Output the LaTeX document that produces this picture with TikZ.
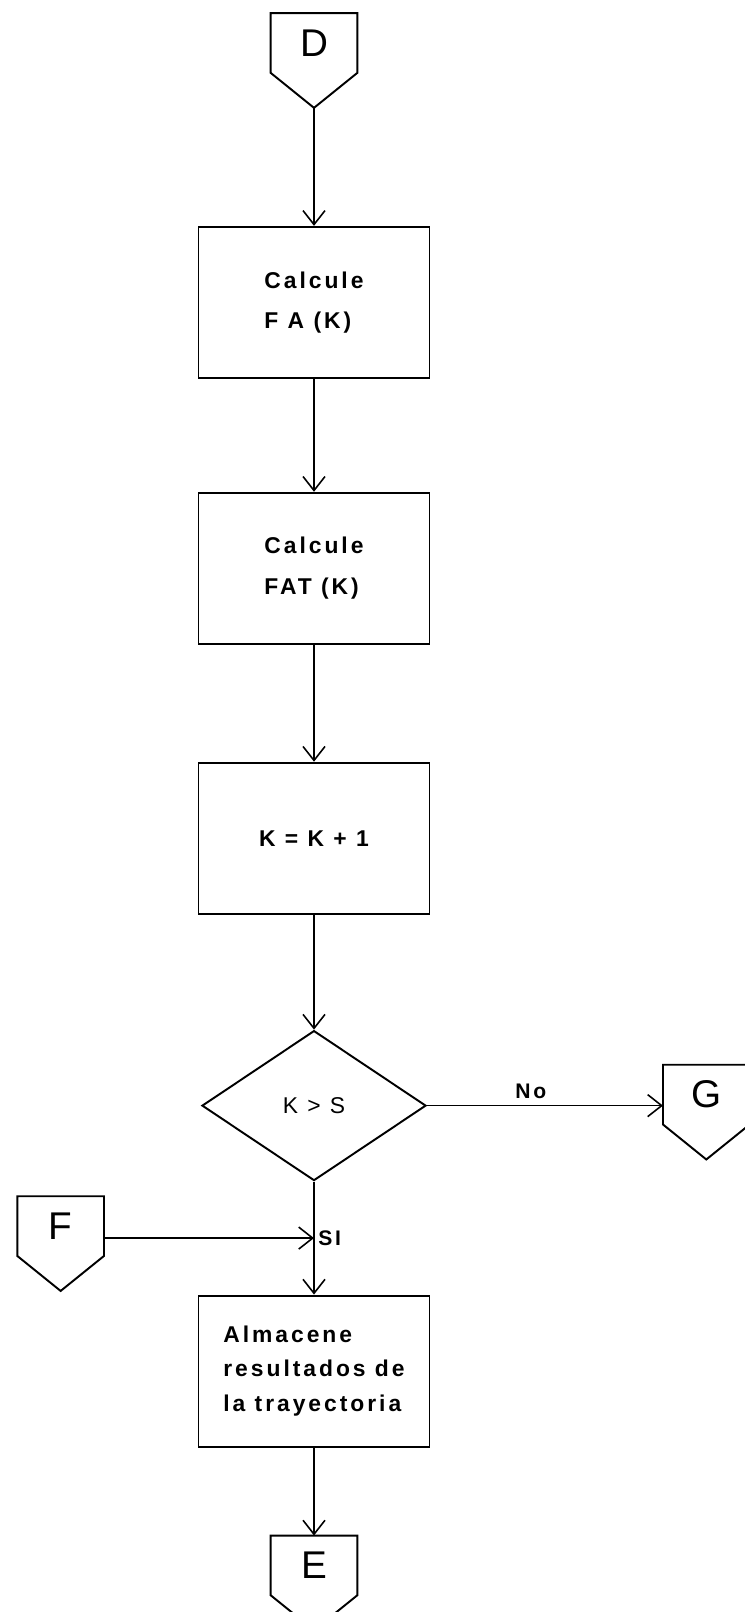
\documentclass[tikz,border=0pt]{standalone}
\usepackage{fontspec}
\setmainfont{Liberation Sans}
\newfontfamily\lettering[LetterSpace=13]{Liberation Sans}
\usetikzlibrary{positioning, arrows.meta, shapes.geometric, calc}

\begin{document}
\begin{tikzpicture}[
    proc/.style={draw, line width=1.1pt, minimum width=4.62cm, minimum height=3.02cm,
                 align=left, font=\lettering\bfseries\fontsize{13}{23}\selectfont},
    decision/.style={draw, diamond, line width=1.1pt, minimum width=4.48cm, minimum height=3cm,
                 inner sep=0pt, font=\lettering\fontsize{13}{15}\selectfont},
    conn/.style={minimum width=1.72cm, minimum height=1.18cm, inner sep=0pt,
                 font=\fontsize{22}{24}\selectfont},
    lab/.style={font=\lettering\bfseries\fontsize{12}{14}\selectfont},
    arrow/.style={-{Straight Barb[length=0.28cm, width=0.44cm]}, line width=0.9pt},
]
\useasboundingbox (0,0) rectangle (14.88,-32.24);

% --- Main column ---
\node[conn]                      (D)     at (6.28,-0.86) {D};
\node[proc, below=3.06cm of D]   (fa)    {Calcule\\F A (K)};
\node[proc, below=2.26cm of fa]  (fat)   {Calcule\\FAT (K)};
\node[proc, below=2.34cm of fat] (inc)   {K = K + 1};
\node[decision, below=2.3cm of inc] (cond) {K > S};
\node[proc, below=2.26cm of cond, font=\lettering\bfseries\fontsize{13}{19.5}\selectfont]
                                 (store) {Almacene\\resultados de\\la trayectoria};
\node[conn, below=1.76cm of store] (E)   {E};

% --- Side connectors ---
\node[conn, right=4.72cm of cond, yshift=0.22cm] (G) {G};
\coordinate (join) at ($(cond.south)!0.5!(store.north)$);
\node[conn, left=4.2cm of join, yshift=0.24cm]   (F) {F};

% --- Off-page connector outlines ---
\foreach \n in {D,E,F,G}
  \draw[line width=1.1pt] (\n.north west) -- (\n.north east) -- (\n.south east)
        -- ([yshift=-0.7cm]\n.south) coordinate (\n-tip) -- (\n.south west) -- cycle;

% --- Arrows ---
\draw[arrow] (D-tip) -- (fa);
\draw[arrow] (fa) -- (fat);
\draw[arrow] (fat) -- (inc);
\draw[arrow] (inc) -- (cond);
\draw[arrow] (cond.east) -- (cond.east -| G.west) node[pos=0.44, above, lab] {No};
\draw[arrow] (cond) -- (store) node[pos=0.5, right, lab, inner sep=2pt] {SI};
\draw[arrow] (F.east |- join) -- (join);
\draw[arrow] (store) -- (E);
\end{tikzpicture}
\end{document}
